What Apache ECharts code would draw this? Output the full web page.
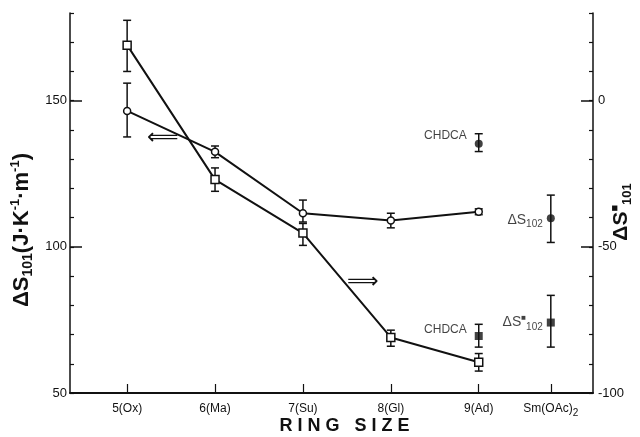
<!DOCTYPE html>
<html>
<head>
<meta charset="utf-8">
<script src="https://cdn.jsdelivr.net/npm/echarts@6/dist/echarts.min.js"></script>
<style>
  html, body { margin: 0; background: #fff; }
  #chart { width: 640px; height: 437px; }
</style>
</head>
<body>
<div id="chart"></div>
<script>
var categories = ['5(Ox)', '6(Ma)', '7(Su)', '8(Gl)', '9(Ad)', 'Sm(OAc)2'];
var xPositions = [5, 6, 7, 8, 9, 9.82];

// open circles -> left axis
var circleVals = [146.5, 132.5, 111.5, 109, 112];
var circleLow = [137.6, 130.5, 108.5, 106.5, 111];
var circleHigh = [156, 134.5, 116, 111.5, 113];

// open squares -> right axis
var squareVals = [19, -27, -45.3, -81, -89.5];
var squareLow = [10, -31, -49.5, -84, -92.5];
var squareHigh = [27.5, -23, -42, -78.5, -86.5];

// filled circles (left axis): CHDCA at 9(Ad), dS102 at Sm(OAc)2
var filledCircleX = [9, 9.82];
var filledCircleVals = [135.3, 109.8];
var filledCircleLow = [132.6, 101.5];
var filledCircleHigh = [138.7, 117.7];

// filled squares (right axis)
var filledSquareX = [9, 9.82];
var filledSquareVals = [-80.5, -75.9];
var filledSquareLow = [-84.3, -84.3];
var filledSquareHigh = [-76.5, -66.6];

var leftLabels = [50, 100, 150];
var rightLabels = [-100, -50, 0];

var ink = '#111';
var font = 'Liberation Sans';

function pairs(xs, ys) {
  return xs.map(function(x, i) { return [x, ys[i]]; });
}

function errorBars(xs, lows, highs, yIdx, cap) {
  return {
    type: 'custom',
    yAxisIndex: yIdx,
    silent: true,
    z: 1,
    encode: { x: 0, y: [1, 2] },
    data: xs.map(function(x, i) { return [x, lows[i], highs[i]]; }),
    renderItem: function(params, api) {
      var lo = api.coord([api.value(0), api.value(1)]);
      var hi = api.coord([api.value(0), api.value(2)]);
      var st = { stroke: ink, lineWidth: 1.5 };
      return {
        type: 'group',
        children: [
          { type: 'line', shape: { x1: lo[0], y1: lo[1], x2: hi[0], y2: hi[1] }, style: st },
          { type: 'line', shape: { x1: lo[0] - cap, y1: lo[1], x2: lo[0] + cap, y2: lo[1] }, style: st },
          { type: 'line', shape: { x1: hi[0] - cap, y1: hi[1], x2: hi[0] + cap, y2: hi[1] }, style: st }
        ]
      };
    }
  };
}

var subRich = {
  n: { fontSize: 14, color: ink, fontFamily: font },
  sub: { fontSize: 10, color: ink, fontFamily: font, padding: [9, 0, 0, 0] },
  sq: { fontSize: 8, color: ink, fontFamily: font, padding: [0, 0, 10, 0] }
};

var chart = echarts.init(document.getElementById('chart'), null, { renderer: 'canvas' });
chart.setOption({
  animation: false,
  backgroundColor: '#fff',
  grid: { left: 70, right: 47, top: 13, bottom: 44, outerBoundsMode: 'none', containLabel: false },
  xAxis: {
    type: 'value',
    min: 4.35,
    max: 10.3,
    name: 'R I N G   S I Z E',
    nameLocation: 'middle',
    nameGap: 24,
    nameMoveOverlap: false,
    nameTextStyle: { fontSize: 18, fontWeight: 'bold', color: ink, fontFamily: font, padding: [0, 0, 0, 26] },
    axisLine: { onZero: false, lineStyle: { color: ink, width: 2 } },
    axisTick: { inside: true, length: 9, customValues: xPositions, lineStyle: { color: ink, width: 1.2 } },
    splitLine: { show: false },
    axisLabel: {
      customValues: xPositions,
      color: ink,
      fontSize: 12,
      fontFamily: font,
      margin: 10,
      formatter: function(v) {
        var i = xPositions.indexOf(v);
        var c = categories[i] || '';
        return c === 'Sm(OAc)2' ? '{m|Sm(OAc)}{s|2}' : c;
      },
      rich: {
        m: { fontSize: 12, color: ink, fontFamily: font, padding: [0, 0, 4, 0] },
        s: { fontSize: 10, color: ink, fontFamily: font, padding: [4, 0, 0, 0] }
      }
    }
  },
  yAxis: [
    {
      type: 'value',
      position: 'left',
      min: 50,
      max: 180,
      interval: 10,
      name: '{n|ΔS}{sub|101}{n|(J·K}{sup|-1}{n|·m}{sup|-1}{n|)}',
      nameLocation: 'middle',
      nameRotate: 90,
      nameGap: 35,
      nameMoveOverlap: false,
      nameTextStyle: {
        padding: [0, 54, 0, 0],
        rich: {
          n: { fontSize: 22, fontWeight: 'bold', color: ink, fontFamily: font },
          sub: { fontSize: 14, fontWeight: 'bold', color: ink, fontFamily: font, padding: [13, 0, 0, 0] },
          sup: { fontSize: 13, fontWeight: 'bold', color: ink, fontFamily: font, padding: [0, 0, 13, 0] }
        }
      },
      axisLine: { show: true, onZero: false, lineStyle: { color: ink, width: 1.5 } },
      axisTick: { inside: true, length: 4, lineStyle: { color: ink, width: 1.2 } },
      splitLine: { show: false },
      axisLabel: { customValues: leftLabels, color: ink, fontSize: 13, fontFamily: font, margin: 3 }
    },
    {
      type: 'value',
      position: 'right',
      min: -100,
      max: 30,
      interval: 10,
      name: '{n|ΔS}{sq|■}{sub|101}',
      nameLocation: 'middle',
      nameRotate: 90,
      nameGap: 16,
      nameMoveOverlap: false,
      nameTextStyle: {
        padding: [0, 18, 0, 0],
        rich: {
          n: { fontSize: 21, fontWeight: 'bold', color: ink, fontFamily: font },
          sub: { fontSize: 13, fontWeight: 'bold', color: ink, fontFamily: font, padding: [12, 0, 0, 0] },
          sq: { fontSize: 11, color: ink, fontFamily: font, padding: [0, 0, 14, 0] }
        }
      },
      axisLine: { show: true, onZero: false, lineStyle: { color: ink, width: 1.5 } },
      axisTick: { inside: true, length: 4, lineStyle: { color: ink, width: 1.2 } },
      splitLine: { show: false },
      axisLabel: { customValues: rightLabels, color: ink, fontSize: 13, fontFamily: font, margin: 5 }
    },
    {
      type: 'value',
      position: 'left',
      min: 50,
      max: 180,
      axisLine: { show: false, onZero: false },
      axisTick: { inside: true, length: 12, customValues: leftLabels, lineStyle: { color: ink, width: 1.5 } },
      axisLabel: { show: false },
      splitLine: { show: false }
    },
    {
      type: 'value',
      position: 'right',
      min: -100,
      max: 30,
      axisLine: { show: false, onZero: false },
      axisTick: { inside: true, length: 12, customValues: rightLabels, lineStyle: { color: ink, width: 1.5 } },
      axisLabel: { show: false },
      splitLine: { show: false }
    }
  ],
  graphic: [
    { type: 'text', left: 147, top: 127, style: { text: '⟸', fontSize: 22, fill: ink, fontFamily: 'DejaVu Sans' } },
    { type: 'text', left: 347, top: 271, style: { text: '⟹', fontSize: 22, fill: ink, fontFamily: 'DejaVu Sans' } }
  ],
  series: [
    errorBars(xPositions.slice(0, 5), circleLow, circleHigh, 0, 4),
    errorBars(xPositions.slice(0, 5), squareLow, squareHigh, 1, 4),
    errorBars(filledCircleX, filledCircleLow, filledCircleHigh, 0, 4),
    errorBars(filledSquareX, filledSquareLow, filledSquareHigh, 1, 4),
    {
      type: 'line',
      yAxisIndex: 0,
      z: 3,
      data: pairs(xPositions.slice(0, 5), circleVals),
      symbol: 'circle',
      symbolSize: 7,
      showAllSymbol: true,
      lineStyle: { color: ink, width: 2 },
      itemStyle: { color: '#fff', borderColor: ink, borderWidth: 1.5 }
    },
    {
      type: 'line',
      yAxisIndex: 1,
      z: 3,
      data: pairs(xPositions.slice(0, 5), squareVals),
      symbol: 'rect',
      symbolSize: 8,
      showAllSymbol: true,
      lineStyle: { color: ink, width: 2 },
      itemStyle: { color: '#fff', borderColor: ink, borderWidth: 1.5 }
    },
    {
      type: 'scatter',
      yAxisIndex: 0,
      z: 3,
      symbol: 'circle',
      symbolSize: 8,
      itemStyle: { color: ink },
      label: { show: true, position: 'left', distance: 8, color: ink, fontFamily: font, fontSize: 12, rich: subRich },
      data: [
        { value: [filledCircleX[0], filledCircleVals[0]], label: { formatter: 'CHDCA', offset: [0, -8] } },
        { value: [filledCircleX[1], filledCircleVals[1]], label: { formatter: '{n|ΔS}{sub|102}', offset: [4, 2] } }
      ]
    },
    {
      type: 'scatter',
      yAxisIndex: 1,
      z: 3,
      symbol: 'rect',
      symbolSize: 8,
      itemStyle: { color: ink },
      label: { show: true, position: 'left', distance: 8, color: ink, fontFamily: font, fontSize: 12, rich: subRich },
      data: [
        { value: [filledSquareX[0], filledSquareVals[0]], label: { formatter: 'CHDCA', offset: [0, -6] } },
        { value: [filledSquareX[1], filledSquareVals[1]], label: { formatter: '{n|ΔS}{sq|■}{sub|102}', offset: [4, 0] } }
      ]
    }
  ]
});
</script>
</body>
</html>
